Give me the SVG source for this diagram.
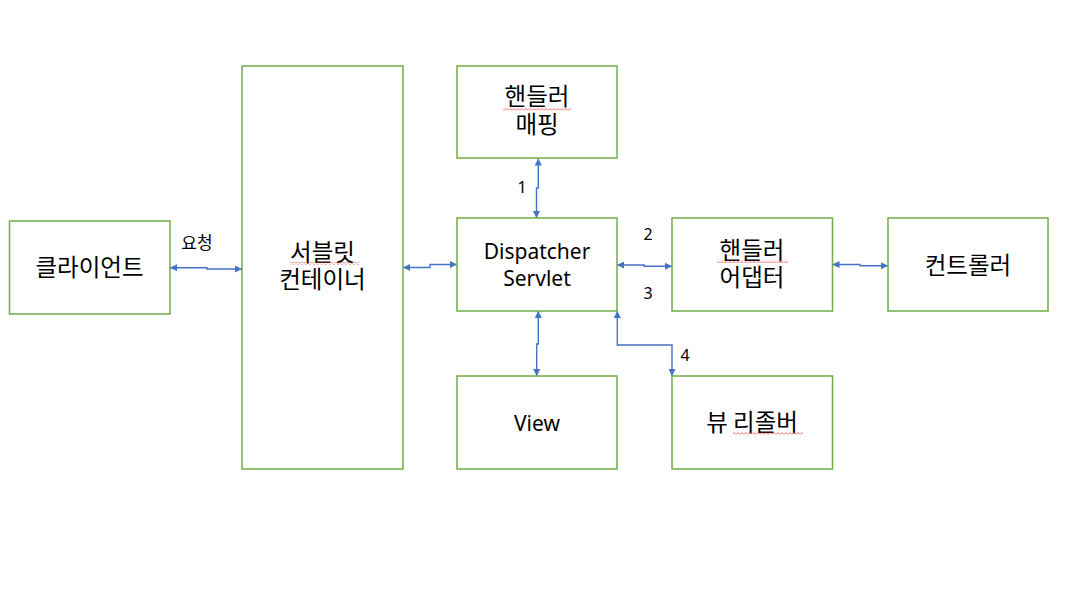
<svg xmlns="http://www.w3.org/2000/svg" width="1080" height="603" viewBox="0 0 1080 603">
<style>
.box{fill:#fff;stroke:#70AD47;stroke-width:1.5}
.t{font-family:"Noto Sans","Noto Sans CJK KR",sans-serif;font-size:21px;fill:#000;text-anchor:middle}
.k{font-family:"Noto Sans CJK KR","Noto Sans",sans-serif;font-size:23.5px;fill:#000;text-anchor:middle}
.lb{font-family:"Noto Sans","Noto Sans CJK KR",sans-serif;font-size:16px;fill:#000;text-anchor:middle}
.lk{font-family:"Noto Sans CJK KR","Noto Sans",sans-serif;font-size:17px;fill:#000;text-anchor:middle}
.c{fill:none;stroke:#4472C4;stroke-width:1.4;marker-start:url(#ah);marker-end:url(#ah)}
.sq{fill:url(#wave)}
</style>
<defs>
<marker id="ah" viewBox="0 0 10 10" refX="10" refY="5" markerWidth="7" markerHeight="7" markerUnits="userSpaceOnUse" orient="auto-start-reverse">
<path d="M0,0 L10,5 L0,10 z" fill="#4472C4"/>
</marker>
<pattern id="wave" width="4" height="3" patternUnits="userSpaceOnUse">
<polyline points="0,2.5 2,0.5 4,2.5" fill="none" stroke="#E04040" stroke-width="0.8"/>
</pattern>
</defs>
<rect width="1080" height="603" fill="#fff"/>
<g id="connectors">
<path class="c" d="M170,267.7 H207 V269 H242"/>
<path class="c" d="M403,267.5 H430 V264.5 H457"/>
<path class="c" d="M538.3,158.5 V188 H536.5 V218"/>
<path class="c" d="M617,265 H644 V266.3 H672"/>
<path class="c" d="M832.5,264.5 H860 V265.8 H888"/>
<path class="c" d="M538.3,311 V344 H536.7 V376"/>
<path class="c" d="M617.3,311 V345 H672 V376"/>
<text class="lk" x="197" y="249">요청</text>
<text class="lb" x="522" y="193">1</text>
<text class="lb" x="648" y="240">2</text>
<text class="lb" x="648" y="299">3</text>
<text class="lb" x="685" y="361">4</text>
</g>
<g id="client">
<rect class="box" x="9.5" y="221" width="160.5" height="93"/>
<text class="k" x="89.5" y="276">클라이언트</text>
</g>
<g id="servlet-container">
<rect class="box" x="242" y="66" width="161" height="403"/>
<text class="k" x="322.5" y="261">서블릿<tspan x="322.5" dy="27">컨테이너</tspan></text>
<rect class="sq" x="290" y="262" width="69" height="3"/>
</g>
<g id="handler-mapping">
<rect class="box" x="457" y="66" width="160" height="92"/>
<text class="k" x="537" y="105">핸들러<tspan x="537" dy="28">매핑</tspan></text>
<rect class="sq" x="503" y="108" width="68" height="3"/>
</g>
<g id="dispatcher-servlet">
<rect class="box" x="457" y="218" width="160" height="93"/>
<text class="t" x="537" y="259">Dispatcher<tspan x="537" dy="27">Servlet</tspan></text>
</g>
<g id="handler-adapter">
<rect class="box" x="672" y="218" width="160.5" height="93"/>
<text class="k" x="752" y="259">핸들러<tspan x="752" dy="27">어댑터</tspan></text>
<rect class="sq" x="717" y="260" width="71" height="3"/>
</g>
<g id="controller">
<rect class="box" x="888" y="218" width="160" height="93"/>
<text class="k" x="968" y="274">컨트롤러</text>
</g>
<g id="view">
<rect class="box" x="457" y="376" width="160" height="93"/>
<text class="t" x="537" y="431">View</text>
</g>
<g id="view-resolver">
<rect class="box" x="672" y="376" width="160.5" height="93"/>
<text class="k" x="752" y="431">뷰 리졸버</text>
<rect class="sq" x="733" y="432" width="70" height="3"/>
</g>
</svg>
